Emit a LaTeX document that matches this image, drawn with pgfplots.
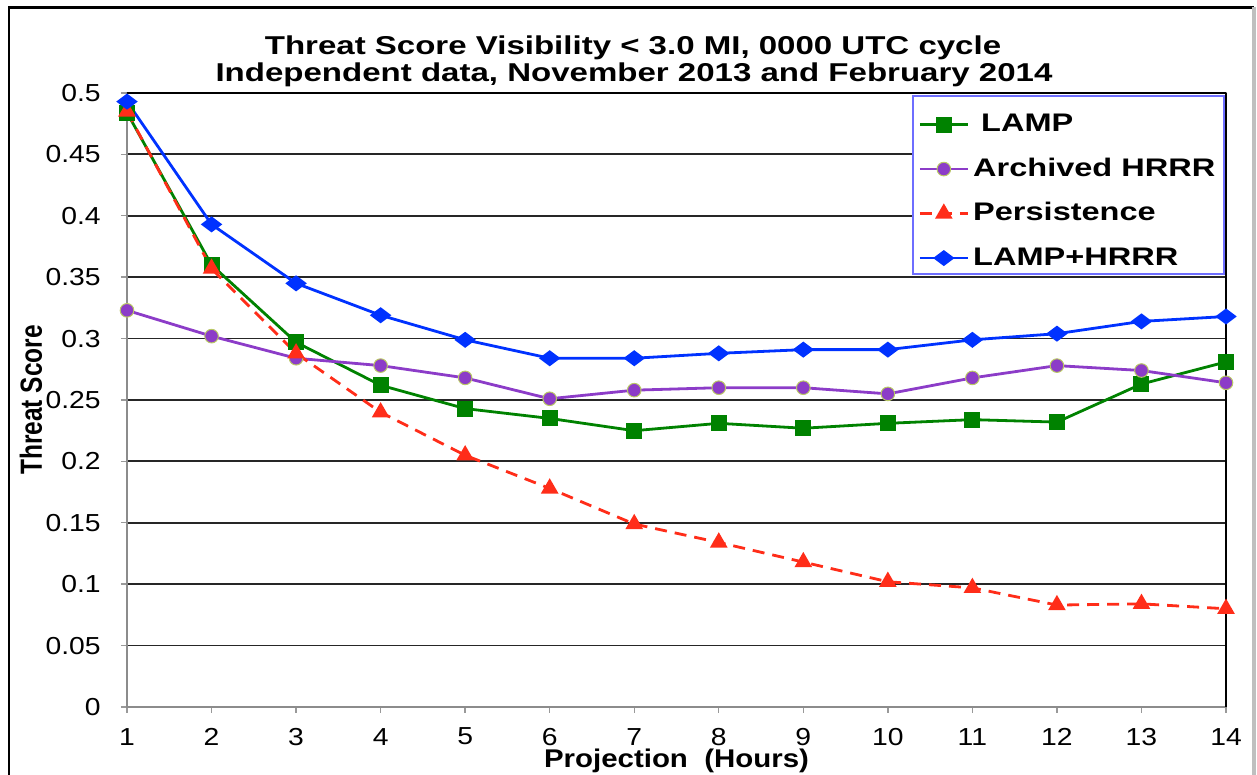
\documentclass[border=0pt]{standalone}
\usepackage{pgfplots}
\pgfplotsset{compat=1.18}
\usepackage{fontspec}
\setmainfont{Liberation Sans}
\newfontfamily\ttlfont[FakeStretch=1.28]{Liberation Sans}
\newfontfamily\tickfont[FakeStretch=1.15]{Liberation Sans}
\newfontfamily\ylfont[FakeStretch=0.8]{Liberation Sans}
\definecolor{lampgreen}{RGB}{0,130,0}
\definecolor{hrrrpurple}{RGB}{140,60,200}
\definecolor{hrrredge}{RGB}{185,200,100}
\definecolor{persred}{RGB}{255,45,25}
\definecolor{lhblue}{RGB}{0,50,255}
\definecolor{legblue}{RGB}{110,110,255}
\begin{document}
\begin{tikzpicture}
\begin{axis}[
  at={(0,0)}, anchor=south west,
  scale only axis, width=549.5pt, height=307pt,
  xmin=1, xmax=14, ymin=0, ymax=0.5,
  xtick={1,2,3,4,5,6,7,8,9,10,11,12,13,14},
  xticklabels={1,2,3,4,5,6,7,8,9,10,11,12,13,14},
  ytick={0,0.05,0.1,0.15,0.2,0.25,0.3,0.35,0.4,0.45,0.5},
  yticklabels={0,0.05,0.1,0.15,0.2,0.25,0.3,0.35,0.4,0.45,0.5},
  /pgf/number format/assume math mode=true,
  xtick pos=bottom, ytick pos=left,
  tick align=outside, major tick length=3pt,
  tick style={draw=black!40, line width=0.7pt},
  ymajorgrids, grid style={draw=black!85, line width=0.9pt},
  axis line style={draw=black!45, line width=0.9pt},
  clip=false,
  ticklabel style={font=\tickfont\fontsize{12.3}{14}\selectfont},
  xticklabel style={anchor=center, yshift=-11.8pt, inner sep=0pt},
  yticklabel style={anchor=east, inner sep=0pt, xshift=-10pt},
  xlabel={Projection\ \ (Hours)}, ylabel={Threat Score},
  every axis x label/.style={at={(axis description cs:0.5,0)}, anchor=base, yshift=-30.5pt,
     font=\tickfont\bfseries\fontsize{12.8}{15}\selectfont},
  every axis y label/.style={at={(axis description cs:-0.0874,0.5)}, rotate=90, anchor=center,
     font=\ylfont\bfseries\fontsize{15.3}{18}\selectfont},
  legend style={at={(axis cs:10.357,0.4852)}, anchor=north west, draw=none, fill=none,
     inner sep=0pt, row sep=9.25pt,
     nodes={inner xsep=2pt, inner ysep=0pt, text height=10pt, text depth=3pt,
       font=\ttlfont\bfseries\fontsize{12.7}{15}\selectfont}},
  legend cell align=left,
  legend image code/.code={\draw[mark repeat=2,mark phase=2,#1] plot coordinates {(0pt,0pt)(12pt,0pt)(24pt,0pt)};},
]
\draw[draw=legblue, fill=white, line width=0.6pt] (axis cs:10.297,0.3526) rectangle (axis cs:13.976,0.4976);

\addplot[color=lampgreen, line width=1.4pt, mark=square*, mark size=3.3pt, mark options={solid, fill=lampgreen}]
coordinates {(1,0.484)(2,0.360)(3,0.297)(4,0.262)(5,0.243)(6,0.235)(7,0.225)(8,0.231)(9,0.227)(10,0.231)(11,0.234)(12,0.232)(13,0.263)(14,0.281)};
\addlegendentry{\hspace*{4pt}LAMP}

\addplot[color=hrrrpurple, line width=1.4pt, mark=*, mark size=3.4pt, mark options={solid, fill=hrrrpurple, draw=hrrredge, line width=0.5pt}]
coordinates {(1,0.323)(2,0.302)(3,0.284)(4,0.278)(5,0.268)(6,0.251)(7,0.258)(8,0.260)(9,0.260)(10,0.255)(11,0.268)(12,0.278)(13,0.274)(14,0.264)};
\addlegendentry{Archived HRRR}

\addplot[color=persred, line width=1.4pt, dash pattern=on 6pt off 4pt, mark=triangle*, mark size=3.7pt, mark options={solid, fill=persred}]
coordinates {(1,0.485)(2,0.357)(3,0.288)(4,0.240)(5,0.205)(6,0.178)(7,0.149)(8,0.134)(9,0.118)(10,0.102)(11,0.097)(12,0.083)(13,0.084)(14,0.080)};
\addlegendentry{Persistence}

\addplot[color=lhblue, line width=1.4pt, mark=diamond*, mark size=4.2pt, mark options={solid, fill=lhblue, rotate=90}]
coordinates {(1,0.493)(2,0.393)(3,0.345)(4,0.319)(5,0.299)(6,0.284)(7,0.284)(8,0.288)(9,0.291)(10,0.291)(11,0.299)(12,0.304)(13,0.314)(14,0.318)};
\addlegendentry{LAMP+HRRR}

\draw[black, line width=1pt] (rel axis cs:1,0) -- (rel axis cs:1,1);
\draw[black, line width=1pt] (rel axis cs:0,1) -- (rel axis cs:1,1);
\end{axis}
\node[font=\ttlfont\bfseries\fontsize{12.9}{15}\selectfont, anchor=base] at (253pt,326pt) {Threat Score Visibility < 3.0 MI, 0000 UTC cycle};
\node[font=\ttlfont\bfseries\fontsize{12.9}{15}\selectfont, anchor=base] at (253.5pt,312.5pt) {Independent data, November 2013 and February 2014};
\draw[black, line width=1.2pt] (-59pt,-40pt) -- (-59pt,349.75pt) -- (563.5pt,349.75pt);
\draw[black!25, line width=2pt] (563.5pt,349.75pt) -- (563.5pt,-40pt);
\pgfresetboundingbox
\path[use as bounding box] (-63.5pt,-34pt) rectangle (565pt,353.5pt);
\end{tikzpicture}
\end{document}
